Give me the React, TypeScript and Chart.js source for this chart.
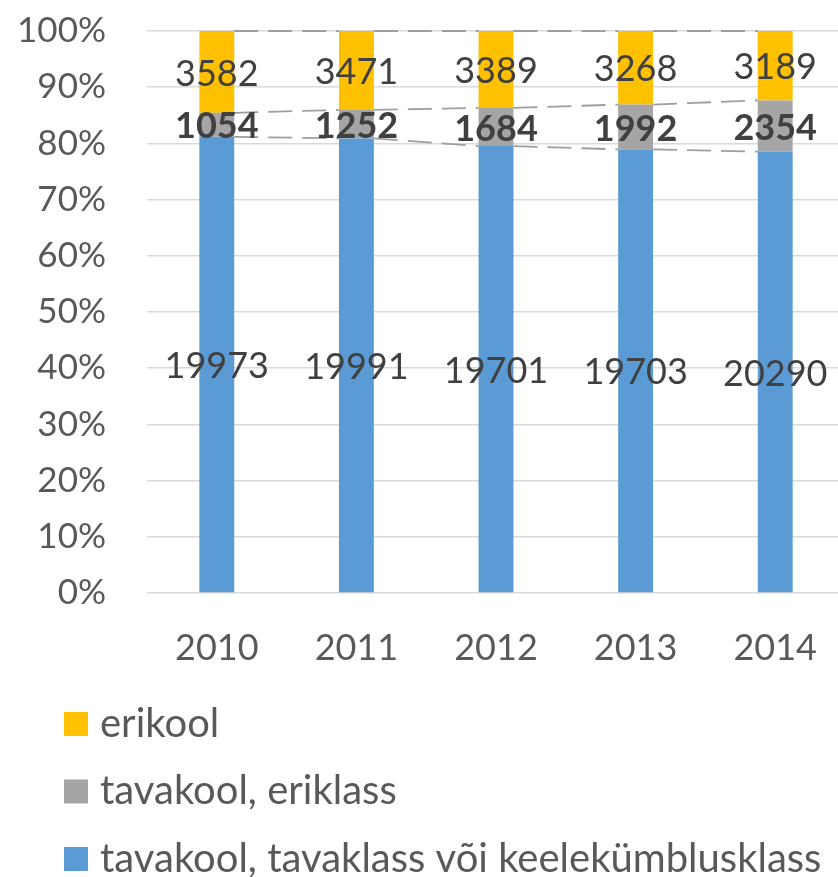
import { useEffect, useRef } from "react";
import { Chart, registerables } from "chart.js";

Chart.register(...registerables);

// ---- data ----
const years = ["2010", "2011", "2012", "2013", "2014"];
const tavaklass = [19973, 19991, 19701, 19703, 20290];
const eriklass = [1054, 1252, 1684, 1992, 2354];
const erikool = [3582, 3471, 3389, 3268, 3189];
const seriesNames = [
  "tavakool, tavaklass või keelekümblusklass",
  "tavakool, eriklass",
  "erikool",
];
const seriesColors = ["#5B9BD5", "#A5A5A5", "#FFC000"];
const seriesBold = [false, true, false];
const yMax = 100;
const yStep = 10;

const FONT = "Lato, 'Open Sans', sans-serif";

export default function App() {
  const ref = useRef<HTMLCanvasElement>(null);

  useEffect(() => {
    const canvas = ref.current;
    if (!canvas) return;
    const raw = [tavaklass, eriklass, erikool];
    const totals = years.map((_, i) => raw.reduce((s, arr) => s + arr[i], 0));
    const pct = raw.map((arr) => arr.map((v, i) => (v / totals[i]) * 100));

    const overlay = {
      id: "overlay",
      afterDatasetsDraw(chart: any) {
        const ctx = chart.ctx;
        // series lines
        ctx.save();
        ctx.strokeStyle = "#9E9E9E";
        ctx.lineWidth = 1.8;
        ctx.setLineDash([24, 10]);
        chart.data.datasets.forEach((_: any, d: number) => {
          const meta = chart.getDatasetMeta(d);
          for (let i = 0; i < meta.data.length - 1; i++) {
            const a = meta.data[i];
            const b = meta.data[i + 1];
            ctx.beginPath();
            ctx.moveTo(a.x + a.width / 2, a.y);
            ctx.lineTo(b.x - b.width / 2, b.y);
            ctx.stroke();
          }
        });
        ctx.restore();
        // data labels
        ctx.save();
        ctx.textAlign = "center";
        ctx.textBaseline = "middle";
        ctx.fillStyle = "#404040";
        chart.data.datasets.forEach((_: any, d: number) => {
          const meta = chart.getDatasetMeta(d);
          ctx.font = `${seriesBold[d] ? "bold " : ""}36px ${FONT}`;
          meta.data.forEach((el: any, i: number) => {
            ctx.fillText(String(raw[d][i]), el.x, (el.y + el.base) / 2 + 2);
          });
        });
        ctx.restore();
      },
      afterDraw(chart: any) {
        const ctx = chart.ctx;
        ctx.save();
        ctx.font = `40px ${FONT}`;
        ctx.textBaseline = "middle";
        ctx.textAlign = "left";
        const order = [2, 1, 0];
        order.forEach((d, k) => {
          const cy = 724 + k * 67.5;
          ctx.fillStyle = seriesColors[d];
          ctx.fillRect(64, cy - 12, 24, 24);
          ctx.fillStyle = "#595959";
          ctx.fillText(seriesNames[d], 100, cy);
        });
        ctx.restore();
      },
    };

    const chart = new Chart(canvas, {
      type: "bar",
      data: {
        labels: years,
        datasets: raw.map((_, d) => ({
          label: seriesNames[d],
          data: pct[d],
          backgroundColor: seriesColors[d],
          borderWidth: 0,
          barPercentage: 0.25,
          categoryPercentage: 1,
        })),
      },
      options: {
        animation: false,
        responsive: false,
        maintainAspectRatio: false,
        layout: { padding: { top: 31, left: 0, right: 0, bottom: 214 } },
        plugins: { legend: { display: false }, tooltip: { enabled: false } },
        scales: {
          x: {
            stacked: true,
            offset: true,
            grid: { display: false },
            border: { display: false },
            ticks: { color: "#595959", font: { family: FONT, size: 36 }, padding: 26 },
            afterFit: (s: any) => {
              s.height = 70;
              s.paddingLeft = 0;
              s.paddingRight = 0;
            },
          },
          y: {
            stacked: true,
            min: 0,
            max: yMax,
            grid: { color: "#D9D9D9", lineWidth: 1.5, drawTicks: false },
            border: { display: false },
            ticks: {
              stepSize: yStep,
              color: "#595959",
              font: { family: FONT, size: 35 },
              padding: 41,
              callback: (v: any) => `${v}%`,
            },
            afterFit: (s: any) => {
              s.width = 147;
              s.paddingTop = 0;
              s.paddingBottom = 0;
            },
          },
        },
      },
      plugins: [overlay],
    });
    return () => chart.destroy();
  }, []);

  return (
    <div
      style={{
        position: "fixed",
        left: 0,
        top: 0,
        width: 838,
        height: 877,
        overflow: "hidden",
        background: "#fff",
      }}
    >
      <canvas ref={ref} width={845} height={877} style={{ display: "block", width: 845, height: 877 }} />
    </div>
  );
}
